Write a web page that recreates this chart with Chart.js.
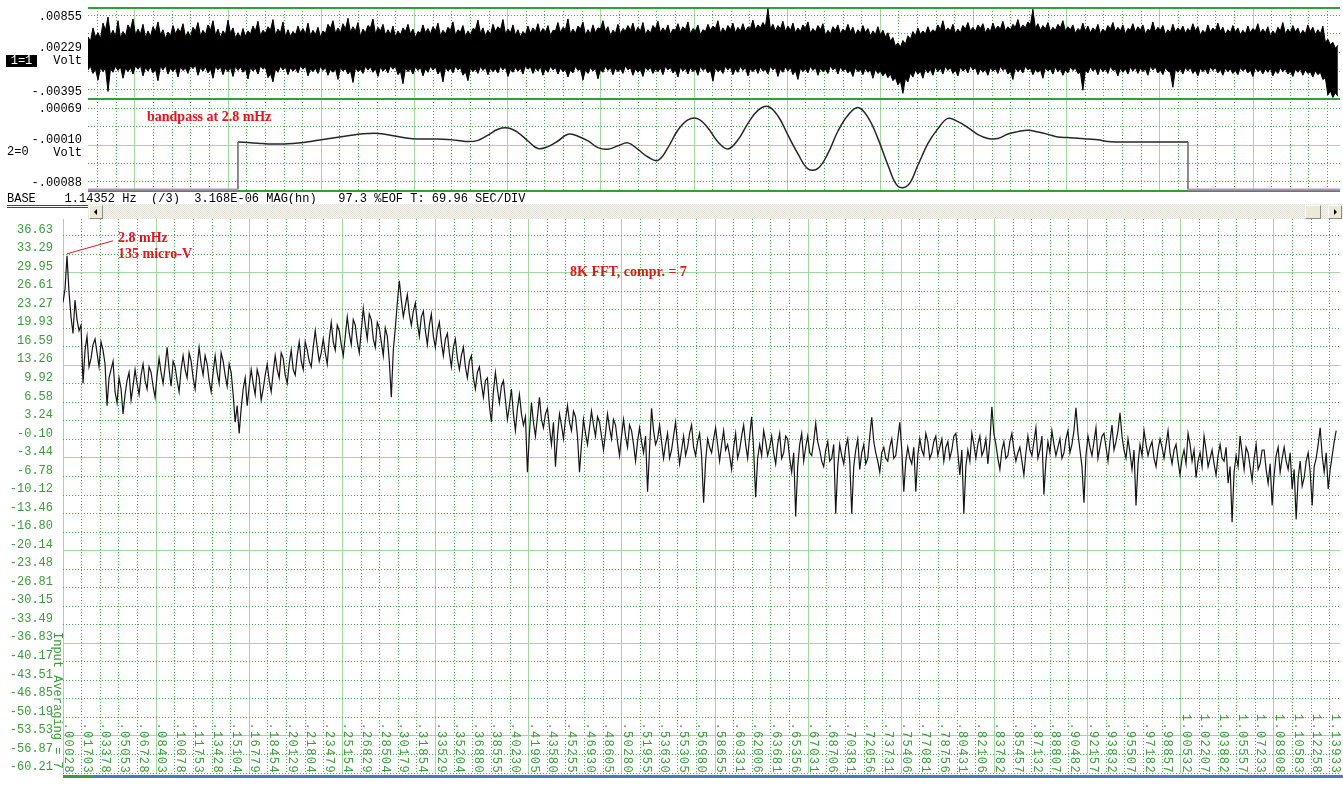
<!DOCTYPE html>
<html>
<head>
<meta charset="utf-8">
<title>8K FFT</title>
<script src="https://cdn.jsdelivr.net/npm/chart.js@4.4.1/dist/chart.umd.min.js"></script>
<style>
  html, body { margin: 0; padding: 0; background: #fff; }
  #screen { position: relative; width: 1343px; height: 787px; overflow: hidden;
            font-family: "Liberation Mono", "DejaVu Sans Mono", monospace; }
  #screen canvas { position: absolute; left: 0; }
  .mono { position: absolute; white-space: pre; font-size: 12px; line-height: 12px; color: #000; }
  .note { position: absolute; white-space: pre; color: #e3141c;
          font: bold 14px/16px "Liberation Serif", "DejaVu Serif", serif; }
  #chan1 { left: 6px; top: 55px; width: 31px; height: 12px; background: #000; color: #fff; text-align: center; }
  #chan2 { left: 7px; top: 146px; }
  #status { left: 7px; top: 193px; }
  #rule { position: absolute; left: 7px; top: 205px; width: 81px; height: 1px;
          border-top: 1px solid #444; border-bottom: 1px solid #444; }
  #track { position: absolute; left: 88px; top: 204px; width: 1255px; height: 15px;
           background: repeating-conic-gradient(#f7f6f1 0 25%, #e3e1d7 0 50%) 0 0 / 2px 2px; }
  .btn { position: absolute; top: 1px; width: 14px; height: 14px; background: #ece9d8;
         border: 1px solid; border-color: #fff #8a8a8a #8a8a8a #fff; box-sizing: border-box; }
  .btn i { position: absolute; top: 3px; width: 0; height: 0; border-top: 3px solid transparent; border-bottom: 3px solid transparent; }
  #btnL { left: 1px; } #btnL i { left: 4px; border-right: 3px solid #000; }
  #btnR { right: 1px; } #btnR i { left: 5px; border-left: 3px solid #000; }
  #thumb { left: 1217px; width: 16px; }
  #avg { left: 51px; top: 632px; writing-mode: vertical-rl; color: #3b9b3b; }
  #baseG { position: absolute; left: 63px; top: 775px; width: 30px; height: 3px; background: #3c9c3c; }
  #baseB { position: absolute; left: 93px; top: 775px; width: 1250px; height: 3px; background: #3f7fbf; }
</style>
</head>
<body>
<div id="screen">
  <canvas id="trace1" width="1343" height="100" style="top:0"></canvas>
  <canvas id="trace2" width="1343" height="100" style="top:99px"></canvas>
  <canvas id="fft" width="1343" height="568" style="top:219px"></canvas>

  <div class="mono" id="chan1">1=1</div>
  <div class="mono" id="chan2">2=0</div>
  <div class="mono" id="status">BASE    1.14352 Hz  (/3)  3.168E-06 MAG(hn)   97.3 %EOF T: 69.96 SEC/DIV</div>
  <div id="rule"></div>
  <div id="track">
    <div class="btn" id="btnL"><i></i></div>
    <div class="btn" id="thumb"></div>
    <div class="btn" id="btnR"><i></i></div>
  </div>
  <div class="mono" id="avg">Input Averaging = 7</div>
  <div id="baseG"></div><div id="baseB"></div>

  <div class="note" style="left:147px; top:109px">bandpass at 2.8 mHz</div>
  <div class="note" style="left:118px; top:230px">2.8 mHz</div>
  <div class="note" style="left:118px; top:246px">135 micro-V</div>
  <div class="note" style="left:570px; top:264px">8K FFT, compr. = 7</div>
</div>

<script>
// time axis of the two upper traces (seconds)
const secPerDiv = 69.96;
const timeSpan = 940.1;
const firstDiv = 35.29;
const traceStep = 1.877;
const bandStart = 112.6;
const bandStep = 7.509;

// channel 1: upper and lower edge of the raw signal, mV
const traceUpper = [
  4.9, 4.2, 6.4, 4.9, 5.6, 4.6, 7.2, 6.0, 8.2, 5.1, 6.0, 5.0, 7.6, 4.7, 5.8, 5.0, 6.9, 6.1, 7.9, 5.3,
  6.2, 5.4, 7.0, 4.8, 5.9, 5.0, 6.6, 5.8, 7.4, 5.2, 6.1, 4.6, 5.7, 5.1, 6.8, 5.4, 6.3, 5.7, 7.1, 4.9,
  5.8, 4.9, 6.5, 5.9, 7.3, 5.1, 6.0, 5.3, 6.9, 6.0, 7.6, 5.2, 6.2, 4.8, 5.9, 5.3, 7.7, 5.5, 6.4, 4.7,
  5.6, 4.8, 6.3, 5.0, 5.9, 5.4, 6.7, 5.9, 7.5, 5.1, 6.0, 5.5, 6.6, 6.0, 7.8, 5.2, 6.2, 5.6, 7.4, 5.0,
  6.1, 5.0, 5.8, 5.2, 6.7, 5.6, 6.3, 5.4, 7.2, 5.1, 6.0, 5.3, 6.5, 4.9, 5.9, 5.5, 7.0, 6.3, 7.6, 5.5,
  6.4, 5.6, 7.1, 6.2, 8.0, 5.7, 6.6, 5.9, 7.3, 5.0, 6.2, 5.6, 6.8, 6.4, 7.9, 5.4, 6.5, 5.9, 7.0, 5.2,
  6.1, 5.3, 6.7, 4.9, 5.9, 5.2, 6.4, 5.8, 7.0, 5.4, 6.2, 4.8, 5.8, 5.5, 6.9, 5.6, 6.3, 5.4, 6.6, 5.9,
  7.2, 5.1, 6.0, 5.4, 6.5, 6.0, 7.4, 5.2, 6.1, 5.7, 6.8, 5.0, 5.9, 5.2, 6.3, 6.1, 7.7, 5.5, 6.4, 5.1,
  6.0, 5.3, 7.0, 5.8, 6.6, 6.1, 7.8, 5.4, 6.2, 5.6, 6.9, 5.2, 6.1, 4.9, 5.8, 5.3, 6.7, 5.5, 6.4, 5.8,
  7.1, 5.5, 6.3, 5.7, 6.8, 5.1, 6.0, 5.9, 7.3, 5.6, 6.5, 6.1, 7.9, 5.4, 6.2, 5.5, 6.7, 6.2, 7.4, 5.2,
  6.1, 5.4, 6.9, 5.6, 6.4, 6.2, 7.6, 5.8, 6.6, 5.1, 6.0, 5.5, 7.0, 5.4, 6.3, 5.9, 6.8, 6.0, 7.2, 5.6,
  6.5, 5.9, 7.3, 5.3, 6.1, 5.5, 6.8, 6.2, 7.5, 5.6, 6.4, 5.8, 6.9, 5.3, 6.2, 6.0, 7.1, 5.7, 6.6, 6.1,
  7.4, 5.4, 6.3, 5.9, 6.9, 5.2, 6.1, 5.8, 7.0, 6.0, 6.7, 6.3, 7.6, 5.5, 6.4, 5.7, 6.8, 6.1, 7.2, 5.6,
  6.5, 5.9, 7.1, 5.8, 6.6, 6.3, 7.7, 6.1, 6.9, 6.4, 7.3, 6.6, 9.6, 6.2, 7.0, 5.9, 6.8, 6.2, 7.5, 5.8,
  6.7, 6.0, 7.2, 5.6, 6.4, 5.8, 6.9, 6.3, 7.4, 5.5, 6.3, 5.7, 6.8, 6.1, 7.1, 5.2, 6.0, 5.4, 6.6, 6.0,
  6.9, 5.4, 6.2, 5.8, 7.0, 5.7, 6.5, 5.2, 6.1, 5.5, 6.8, 5.6, 6.3, 5.1, 5.9, 5.3, 6.6, 5.2, 6.0, 4.9,
  5.6, 4.2, 4.8, 3.4, 3.9, 3.2, 4.3, 3.7, 5.1, 4.5, 5.8, 5.1, 6.4, 5.3, 5.9, 5.4, 6.6, 5.5, 6.1, 5.7,
  6.9, 6.1, 7.6, 5.8, 6.4, 5.9, 7.0, 5.5, 6.2, 5.6, 6.8, 6.2, 7.3, 5.9, 6.5, 5.8, 6.9, 6.3, 7.1, 5.6,
  6.4, 5.8, 7.2, 6.1, 6.7, 6.2, 7.5, 5.9, 6.6, 6.1, 7.0, 6.5, 7.8, 6.2, 6.9, 6.4, 7.4, 6.9, 9.5, 6.3,
  7.1, 6.0, 6.8, 6.2, 7.3, 5.8, 6.5, 6.0, 7.0, 6.4, 7.6, 5.9, 6.6, 6.1, 6.9, 5.5, 6.3, 5.9, 7.2, 5.8,
  6.7, 5.6, 6.4, 5.9, 7.0, 5.4, 6.2, 5.7, 6.8, 6.2, 7.3, 5.8, 6.5, 5.9, 6.9, 5.4, 6.3, 6.0, 7.1, 5.7,
  6.6, 6.0, 6.9, 5.4, 6.2, 5.9, 7.4, 5.8, 6.5, 6.0, 6.8, 5.3, 6.1, 5.6, 7.0, 5.7, 6.4, 5.9, 6.7, 5.5,
  6.3, 5.8, 7.1, 5.9, 6.6, 5.2, 6.0, 5.5, 6.9, 5.7, 6.4, 5.9, 7.2, 5.8, 6.5, 5.3, 6.1, 5.6, 6.8, 5.7,
  6.4, 5.2, 6.0, 5.4, 6.7, 5.6, 6.3, 5.9, 7.1, 5.5, 6.2, 5.6, 6.6, 5.0, 5.9, 5.3, 6.5, 5.9, 7.3, 5.4,
  6.2, 5.6, 6.8, 5.7, 6.4, 5.2, 6.0, 5.4, 6.9, 5.8, 6.5, 5.3, 6.1, 5.4, 6.7, 4.0, 4.5, 3.6, 4.0, 3.0,
  3.5
];
const traceLower = [
  -0.6, 0.0, -1.2, -0.5, -2.3, -0.2, -0.9, -0.3, -4.2, -0.4, -1.0, 0.0, -0.7, -0.1, -2.0, -0.3, -0.9, -0.2, -1.3, 0.1,
  -0.5, 0.1, -1.6, -0.2, -0.8, -0.1, -1.1, -0.5, -2.4, 0.0, -0.6, 0.1, -1.3, -0.3, -0.9, -0.2, -1.8, -0.1, -0.7, -0.3,
  -1.2, 0.1, -0.4, 0.2, -1.5, -0.2, -0.8, -0.1, -1.1, -0.4, -2.0, 0.0, -0.6, -0.1, -1.4, -0.3, -0.9, -0.2, -1.7, 0.0,
  -0.7, -0.1, -1.0, -0.4, -2.1, -0.2, -0.8, -0.3, -1.3, 0.1, -0.5, -0.1, -1.9, -1.2, -2.6, -0.4, -1.0, 0.0, -0.6, -0.1,
  -1.4, -0.2, -0.8, -0.3, -1.1, 0.1, -0.5, 0.0, -1.6, -0.4, -0.9, -0.3, -1.2, 0.0, -0.7, -0.2, -1.5, -0.5, -1.0, -0.4,
  -2.2, -0.2, -0.8, -0.4, -1.3, -0.7, -2.7, -0.2, -0.9, -0.5, -1.2, 0.0, -0.6, -0.1, -1.0, -0.4, -1.7, -0.1, -0.8, -0.3,
  -1.1, 0.1, -0.5, 0.0, -1.4, -0.8, -2.9, -0.3, -0.9, -0.4, -1.3, -0.1, -0.7, -0.2, -1.6, -0.4, -1.0, 0.0, -0.6, -0.1,
  -1.3, -0.6, -2.6, -0.1, -0.8, -0.3, -1.1, 0.0, -0.6, -0.2, -1.5, -0.9, -2.4, -0.3, -0.9, -0.4, -1.2, 0.0, -0.7, -0.2,
  -1.4, -0.3, -0.9, -0.4, -1.1, 0.0, -0.6, -0.1, -1.7, -0.5, -1.0, -0.2, -0.8, -0.3, -1.3, 0.1, -0.5, -0.1, -1.2, -0.2,
  -0.8, -0.1, -1.5, -0.4, -1.0, 0.0, -0.6, -0.2, -1.3, -0.3, -0.9, -0.5, -1.8, -0.6, -1.1, 0.0, -0.7, -0.4, -2.3, -0.6,
  -1.2, -0.2, -0.8, -0.3, -2.1, -0.5, -1.0, 0.0, -0.7, -0.2, -1.4, -0.3, -0.9, -0.4, -1.2, 0.1, -0.6, -0.2, -1.5, -0.4,
  -1.0, -0.5, -1.7, -0.1, -0.7, -0.2, -1.2, -0.4, -0.9, -0.3, -1.4, 0.0, -0.6, -0.2, -1.1, -0.6, -1.8, -0.1, -0.8, -0.3,
  -1.3, -0.2, -0.9, -0.4, -1.5, 0.0, -0.7, -0.3, -1.1, -0.6, -2.5, -0.2, -0.9, -0.5, -1.2, 0.0, -0.6, -0.1, -1.4, -0.4,
  -1.0, 0.0, -0.7, -0.2, -1.6, -0.4, -0.9, -0.3, -1.2, -0.1, -0.8, -0.5, -1.3, 0.0, -0.6, -0.2, -1.7, -0.4, -1.0, -0.1,
  -0.8, -0.2, -1.4, -0.7, -2.2, -0.3, -0.9, -0.4, -1.1, 0.0, -0.7, -0.2, -1.5, -0.3, -0.9, -0.5, -1.2, 0.1, -0.6, -0.2,
  -1.3, -0.1, -0.8, -0.4, -1.1, -0.6, -1.7, -0.2, -0.9, -0.5, -1.4, -0.3, -1.0, -0.6, -2.0, -0.5, -1.2, -0.8, -1.6, -1.0,
  -1.9, -1.3, -2.4, -1.9, -3.1, -2.4, -4.5, -2.0, -2.6, -1.1, -1.8, -0.6, -1.3, -0.8, -2.0, -0.4, -1.1, -0.5, -1.5, -0.1,
  -0.9, -0.3, -1.3, 0.0, -0.7, -0.2, -1.2, -0.6, -1.6, -0.1, -0.8, -0.3, -1.1, 0.1, -0.6, -0.2, -1.4, -0.4, -1.0, -0.5,
  -1.5, -0.2, -0.8, -0.4, -1.2, 0.0, -0.7, -0.3, -1.3, -0.8, -2.2, -0.2, -0.9, -0.4, -1.1, 0.0, -0.6, -0.3, -1.4, -0.5,
  -1.0, -0.5, -2.0, -0.2, -0.8, -0.4, -1.3, -0.1, -0.9, -0.4, -1.5, -0.6, -1.1, -0.1, -0.7, -0.3, -1.2, -1.0, -4.0, -0.6,
  -1.1, -0.1, -0.8, -0.3, -1.4, -0.2, -0.9, -0.4, -1.2, 0.0, -0.7, -0.5, -1.6, -0.3, -1.0, -0.4, -1.3, -0.1, -0.8, -0.2,
  -1.2, -0.3, -0.9, -0.4, -1.5, 0.0, -0.6, -0.1, -1.1, -0.6, -1.4, -0.2, -0.8, -1.0, -3.5, -0.5, -1.0, -0.4, -1.3, -0.2,
  -0.8, -0.2, -1.2, -0.6, -1.6, -0.3, -0.9, -0.4, -1.3, -0.1, -0.7, -0.2, -1.1, -0.5, -1.5, -0.3, -0.9, -0.4, -1.2, -0.7,
  -1.4, -0.2, -0.8, -0.3, -1.1, -0.6, -1.7, -0.2, -0.9, -0.5, -1.3, -0.4, -1.0, -0.3, -1.6, -0.7, -1.2, -0.2, -0.9, -0.4,
  -1.3, -0.8, -1.7, -0.5, -1.0, -0.4, -1.5, -0.6, -1.2, -0.9, -1.8, -0.7, -1.4, -1.0, -2.2, -1.9, -4.8, -4.1, -5.2, -4.4,
  -5.0
];
const trace1Ticks = [-0.00395, -0.00083, 0.00229, 0.00542, 0.00855];

// channel 2: band-passed signal inside its window, mV
const bandFloor = -1.04;
const bandpass = [
  -0.031, -0.044, -0.057, -0.072, -0.074, -0.070, -0.055, -0.027, 0.005, 0.036,
  0.068, 0.100, 0.132, 0.149, 0.151, 0.124, 0.083, 0.049, 0.034, 0.032,
  0.032, 0.022, 0.003, -0.023, 0.003, 0.113, 0.240, 0.265, 0.170, -0.010,
  -0.170, -0.130, -0.010, 0.135, 0.092, -0.006, -0.150, -0.185, -0.112, -0.050,
  -0.190, -0.350, -0.420, -0.150, 0.223, 0.440, 0.460, 0.266, -0.031, -0.180,
  0.015, 0.365, 0.640, 0.720, 0.520, 0.113, -0.282, -0.600, -0.590, -0.271,
  0.202, 0.537, 0.700, 0.493, 0.041, -0.523, -0.970, -0.950, -0.519, -0.061,
  0.253, 0.470, 0.400, 0.272, 0.126, 0.045, 0.043, 0.140, 0.189, 0.219,
  0.179, 0.130, 0.073, 0.062, 0.049, 0.032, 0.015, -0.023, -0.031, -0.031,
  -0.031, -0.031, -0.031, -0.031, -0.031, -0.031
];
const trace2Ticks = [-0.00088, -0.000495, -0.0001, 0.000295, 0.00069];

// spectrum, one value per displayed bin
const specStart = 0.00028;
const specStep = 0.0018;
const spectrum = [
  24.6, 27.0, 33.0, 26.5, 22.0, 19.0, 25.0, 21.5, 19.5, 20.5, 10.0, 16.0, 18.5, 13.0, 14.5, 17.0, 18.0, 15.5, 13.0, 17.5,
  16.0, 13.5, 6.0, 11.0, 12.5, 14.0, 8.5, 6.5, 11.0, 9.0, 4.5, 8.0, 10.5, 12.0, 7.0, 9.5, 12.5, 10.0, 8.0, 11.5,
  13.5, 10.5, 9.0, 13.0, 12.0, 9.5, 7.5, 11.5, 14.5, 12.0, 10.0, 13.0, 16.5, 12.5, 9.5, 14.0, 13.0, 10.5, 8.5, 12.5,
  15.0, 12.5, 11.0, 15.5, 14.0, 11.0, 9.0, 13.0, 16.5, 13.5, 11.5, 15.0, 13.5, 10.5, 8.5, 12.0, 15.0, 12.0, 10.0, 15.5,
  14.0, 11.5, 9.5, 13.5, 12.0, 8.0, 3.0, 6.0, 1.0, 5.5, 9.0, 11.0, 6.0, 9.5, 12.5, 10.0, 8.0, 12.5, 11.0, 7.0,
  9.0, 11.5, 13.5, 10.5, 8.5, 12.0, 15.0, 12.5, 11.0, 15.5, 14.5, 11.5, 10.0, 13.5, 16.0, 12.5, 11.5, 15.0, 17.5, 14.0,
  12.5, 17.5, 16.0, 14.0, 13.0, 16.5, 19.5, 16.5, 14.0, 15.5, 18.0, 15.5, 13.5, 18.0, 21.0, 17.5, 16.0, 20.5, 19.5, 17.0,
  15.0, 18.5, 22.0, 19.0, 17.0, 21.5, 20.5, 17.5, 15.5, 19.5, 23.5, 20.5, 18.0, 22.5, 21.5, 18.0, 16.5, 21.0, 20.0, 17.5,
  15.0, 20.0, 18.5, 14.0, 7.5, 16.0, 20.0, 24.5, 28.5, 25.0, 22.0, 24.0, 26.0, 22.5, 20.5, 23.0, 24.5, 21.0, 18.5, 22.0,
  23.0, 19.5, 17.0, 20.5, 22.5, 18.5, 16.5, 19.5, 21.0, 17.5, 15.0, 18.0, 19.0, 15.5, 13.0, 16.5, 18.0, 14.5, 12.5, 15.0,
  16.5, 13.0, 11.0, 14.0, 15.0, 11.0, 9.0, 12.0, 13.0, 10.0, 7.5, 10.5, 11.0, 6.0, 3.0, 8.5, 12.0, 9.0, 6.5, 9.5,
  10.5, 7.0, 3.5, 6.0, 9.0, 4.5, 1.5, 5.5, 8.0, 4.5, 2.5, 4.0, -6.0, 1.0, 6.5, 3.0, 0.5, 4.0, 7.5, 3.5,
  2.0, 4.5, 5.5, 2.0, -1.0, 3.0, -5.0, 0.5, 4.5, 2.5, 0.0, 3.5, 6.0, 3.0, 1.5, 5.0, 4.0, 0.5, -6.0, -1.0,
  3.5, 1.0, -1.0, 2.0, 5.0, 2.5, 0.5, 4.0, 3.0, 0.5, -2.0, 1.0, 4.5, 2.0, 0.0, 3.5, 2.5, -0.5, -3.0, 0.5,
  3.5, 0.5, -1.5, 2.5, 1.5, -1.0, -4.0, -0.5, 2.0, -0.5, -2.5, 0.5, -9.5, -2.0, 5.5, 1.5, -1.0, 0.0, 2.5, -0.5,
  -3.5, -1.0, 1.0, -3.5, -2.0, 0.5, 3.0, -1.0, -4.5, -2.0, 0.5, -3.0, -1.5, 1.0, 2.5, -1.5, -3.0, -0.5, 1.0, -3.0,
  -11.5, -4.0, 0.0, -1.5, -2.5, 0.0, 2.0, -1.0, -4.0, -1.0, 1.5, -2.0, -1.0, -3.0, -5.5, -1.5, 1.0, -3.5, -2.0, 0.5,
  2.5, -1.0, -3.5, 0.5, 4.0, -2.0, -10.5, -3.5, -1.0, -3.0, 1.5, -0.5, -3.0, -1.5, 0.5, -2.5, -4.5, -1.0, 1.0, -3.5,
  -2.5, 0.5, 0.0, -3.5, -6.0, -2.5, -14.0, -5.0, -1.0, 1.0, -4.0, -1.5, 0.5, -2.5, -3.0, -0.5, 2.8, -0.5, -2.0, -4.0,
  -5.0, -2.0, -0.5, -4.0, -3.5, -1.0, -13.5, -5.0, -1.0, -3.0, -4.5, -1.5, 0.0, -4.0, -13.5, -5.0, -2.0, 0.0, -5.5, -2.5,
  -1.0, -4.5, -3.5, 0.5, 3.9, -0.5, -2.5, -4.0, -6.0, -2.5, -1.5, -3.5, -4.0, -1.5, 0.0, -3.5, -3.0, 0.0, 3.0, -2.0,
  -9.5, -4.0, -1.5, -3.5, -4.5, -1.5, -9.5, -3.0, 0.0, -2.0, -3.0, 1.0, -0.5, -3.5, -2.5, -0.5, 0.5, -3.0, -1.5, 0.0,
  -4.0, -1.5, -0.5, -3.5, -2.0, 0.5, 1.0, -2.5, -6.5, -2.0, -13.5, -5.0, -2.0, -4.0, 1.0, -1.0, -3.5, -1.0, 0.5, -3.0,
  -2.0, 0.0, -4.5, -0.5, 5.8, 1.0, -1.0, -3.5, -5.5, -2.0, -0.5, -3.5, -3.0, -0.5, 1.0, -2.0, -4.0, -2.5, -1.5, -4.0,
  -6.5, -2.5, 0.5, -2.0, -3.0, -0.5, 2.0, -3.5, -2.0, 0.5, -10.0, -4.0, -0.5, -2.5, 1.5, -1.0, -3.0, -1.5, 0.0, -3.5,
  -2.5, 0.0, 1.5, -2.5, -1.0, 1.5, 5.6, 1.0, -2.0, -5.0, -11.5, -3.0, 0.5, -1.5, -3.0, -0.5, 2.0, -3.5, -1.5, 0.5,
  1.0, -1.5, -4.0, -0.5, 2.5, -2.0, -0.5, 1.5, 4.7, 0.5, -2.0, -3.5, 0.0, -2.5, -5.5, -2.0, -12.0, -4.5, -1.0, -3.0,
  1.5, -1.0, -3.0, -1.5, -0.5, -3.5, -5.0, -2.0, 0.0, -1.5, -3.5, -1.0, 1.5, -2.5, -4.5, -2.0, -1.0, -4.0, -6.5, -3.5,
  -2.0, -4.5, 1.0, -1.0, -4.0, -2.0, -7.0, -4.0, -2.5, -5.0, 0.5, -2.0, -5.0, -3.5, -2.0, -4.5, -6.5, -3.0, -1.0, -3.5,
  -4.0, -1.5, -8.0, -5.0, -15.0, -6.0, -3.0, -5.0, 0.5, -2.5, -5.5, -1.5, -2.5, -5.0, -7.5, -3.5, -1.0, -5.5, -4.5, -2.0,
  -2.0, -5.5, -8.0, -4.5, -12.0, -6.5, -3.0, -1.5, -6.0, -3.5, -1.5, -4.0, -5.5, -2.5, -9.0, -5.5, -14.5, -7.0, -4.0, -8.5,
  -7.0, -4.0, -2.5, -6.0, -12.0, -5.0, -3.5, -1.0, 2.0, -3.0, -6.0, -2.5, -9.0, -5.5, -3.0, -0.5, 1.5
];
const freqTicks = [
  '.00028', '.01703', '.03378', '.05053', '.06728', '.08403', '.10078', '.11753', '.13428', '.15104',
  '.16779', '.18454', '.20129', '.21804', '.23479', '.25154', '.26829', '.28504', '.30179', '.31854',
  '.33529', '.35204', '.36880', '.38555', '.40230', '.41905', '.43580', '.45255', '.46930', '.48605',
  '.50280', '.51955', '.53630', '.55305', '.56980', '.58655', '.60331', '.62006', '.63681', '.65356',
  '.67031', '.68706', '.70381', '.72056', '.73731', '.75406', '.77081', '.78756', '.80431', '.82106',
  '.83782', '.85457', '.87132', '.88807', '.90482', '.92157', '.93832', '.95507', '.97182', '.98857',
  '1.00532', '1.02207', '1.03882', '1.05557', '1.07233', '1.08908', '1.10583', '1.12258', '1.13933'
];
const dbTicks = [
  '36.63', '33.29', '29.95', '26.61', '23.27', '19.93', '16.59', '13.26', '9.92', '6.58',
  '3.24', '-0.10', '-3.44', '-6.78', '-10.12', '-13.46', '-16.80', '-20.14', '-23.48', '-26.81',
  '-30.15', '-33.49', '-36.83', '-40.17', '-43.51', '-46.85', '-50.19', '-53.53', '-56.87', '-60.21'
];

const mono = '"Liberation Mono", "DejaVu Sans Mono", monospace';
const panelGreen = '#2f9f37';
const gridSolid = '#a3d8a3';
const gridDot = '#4aae50';
const labelGreen = '#3b9b3b';
const noteRed = '#e3141c';

const isMajor = c => !!(c.tick && c.tick.major);
const fmtVolt = v => v.toFixed(5).replace('0.', '.');
const noPad = s => { s.paddingTop = 0; s.paddingBottom = 0; s.paddingLeft = 0; s.paddingRight = 0; };

function timeAxis() {
  return {
    type: 'linear', min: 0, max: timeSpan,
    afterBuildTicks: s => {
      const ticks = [];
      for (let n = -2; firstDiv + n * secPerDiv / 5 <= timeSpan; n++) {
        ticks.push({ value: firstDiv + n * secPerDiv / 5, major: n % 5 === 0 });
      }
      s.ticks = ticks;
    },
    afterFit: s => { s.height = 0; noPad(s); },
    ticks: { display: false },
    grid: { drawTicks: false, color: c => isMajor(c) ? gridSolid : gridDot },
    border: { display: false, dash: c => isMajor(c) ? [] : [1, 2] }
  };
}

function voltAxis(min, max, ticks, centreColor, centreSolid, shift) {
  return {
    min, max,
    afterBuildTicks: s => {
      s.ticks = [{ value: min, edge: true },
                 ...ticks.map((v, i) => ({ value: v, centre: i === 2 })),
                 { value: max, edge: true }];
    },
    afterFit: s => { s.width = 88; noPad(s); },
    ticks: {
      autoSkip: false, padding: 6, color: '#000', labelOffset: shift,
      font: { family: mono, size: 12, lineHeight: 1.1 },
      callback: (v, i) => i === 1 || i === 5 ? fmtVolt(v) : i === 3 ? [fmtVolt(v), 'Volt'] : ''
    },
    grid: {
      drawTicks: false,
      color: c => !c.tick ? gridDot : c.tick.edge ? panelGreen : c.tick.centre ? centreColor : gridDot,
      lineWidth: c => c.tick && c.tick.edge ? 2 : 1
    },
    border: {
      display: false,
      dash: c => c.tick && (c.tick.edge || (c.tick.centre && centreSolid)) ? [] : [1, 2]
    }
  };
}

const common = {
  responsive: false, maintainAspectRatio: false, animation: false, devicePixelRatio: 1,
  events: [],
  plugins: { legend: { display: false }, tooltip: { enabled: false } },
  elements: { point: { radius: 0 } }
};

// channel 1
new Chart(document.getElementById('trace1'), {
  type: 'line',
  data: {
    datasets: [
      { data: traceUpper.map((v, k) => ({ x: k * traceStep, y: v / 1000 })),
        borderColor: '#000', borderWidth: 1, fill: false },
      { data: traceLower.map((v, k) => ({ x: k * traceStep, y: v / 1000 })),
        borderColor: '#000', borderWidth: 1, fill: '-1', backgroundColor: '#000' }
    ]
  },
  options: {
    ...common,
    layout: { padding: { top: 8, bottom: 1, left: 0, right: 3 } },
    scales: {
      x: timeAxis(),
      y: voltAxis(-0.005452, 0.009718, trace1Ticks, '#7b3f7b', false, 2)
    }
  }
});

// channel 2
const bandEnd = bandStart + (bandpass.length - 1) * bandStep;
new Chart(document.getElementById('trace2'), {
  type: 'line',
  data: {
    datasets: [
      { data: [{ x: 0, y: bandFloor / 1000 }, { x: bandStart, y: bandFloor / 1000 }, { x: bandStart, y: null },
               { x: bandEnd, y: bandFloor / 1000 }, { x: timeSpan, y: bandFloor / 1000 }],
        borderColor: '#c985c9', borderWidth: 2 },
      { data: [{ x: bandStart, y: bandFloor / 1000 }, { x: bandStart, y: bandpass[0] / 1000 }, { x: bandStart + 1, y: null },
               { x: bandEnd, y: bandpass[bandpass.length - 1] / 1000 }, { x: bandEnd, y: bandFloor / 1000 }],
        borderColor: '#666', borderWidth: 1.5 },
      { data: bandpass.map((v, j) => ({ x: bandStart + j * bandStep, y: v / 1000 })),
        borderColor: '#262626', borderWidth: 1.5, tension: 0.4 }
    ]
  },
  options: {
    ...common,
    layout: { padding: { top: 0, bottom: 8, left: 0, right: 3 } },
    scales: {
      x: timeAxis(),
      y: voltAxis(-0.001071, 0.000881, trace2Ticks, gridSolid, true, 1)
    }
  }
});

// spectrum
const freqLabels = {
  id: 'freqLabels',
  afterDatasetsDraw(chart) {
    const { ctx, chartArea, scales: { x } } = chart;
    ctx.save();
    ctx.font = '12px ' + mono;
    ctx.letterSpacing = '1.4px';
    ctx.fillStyle = labelGreen;
    ctx.textAlign = 'right';
    ctx.textBaseline = 'alphabetic';
    freqTicks.forEach(label => {
      ctx.save();
      ctx.translate(x.getPixelForValue(parseFloat(label)) + 2, chartArea.bottom + 1);
      ctx.rotate(Math.PI / 2);
      ctx.fillText(label, 0, 0);
      ctx.restore();
    });
    ctx.letterSpacing = '0px';
    // leader from the 2.8 mHz peak to its note
    const peak = chart.getDatasetMeta(0).data[2];
    ctx.strokeStyle = noteRed;
    ctx.lineWidth = 1;
    ctx.beginPath();
    ctx.moveTo(peak.x, peak.y - 2);
    ctx.lineTo(peak.x + 46, peak.y - 15);
    ctx.stroke();
    ctx.restore();
  }
};

new Chart(document.getElementById('fft'), {
  type: 'line',
  data: {
    datasets: [{
      data: spectrum.map((v, k) => ({ x: specStart + k * specStep, y: v })),
      borderColor: '#151515', borderWidth: 1.2
    }]
  },
  options: {
    ...common,
    layout: { padding: { top: 0, bottom: 14, left: 0, right: 3 } },
    scales: {
      x: {
        type: 'linear', min: 0.00028, max: 1.1485,
        afterBuildTicks: s => { s.ticks = freqTicks.map((l, i) => ({ value: parseFloat(l), major: i % 5 === 0 })); },
        afterFit: s => { s.height = 0; noPad(s); },
        ticks: { display: false },
        grid: { drawTicks: false, color: c => isMajor(c) ? gridSolid : gridDot },
        border: { display: false, dash: c => isMajor(c) ? [] : [1, 2] }
      },
      y: {
        min: -60.21, max: 39.63,
        afterBuildTicks: s => { s.ticks = dbTicks.map((l, i) => ({ value: parseFloat(l), major: i % 5 === 2 })); },
        afterFit: s => { s.width = 63; noPad(s); },
        ticks: {
          autoSkip: false, padding: 10, labelOffset: -6, color: labelGreen,
          font: { family: mono, size: 12 },
          callback: (v, i) => dbTicks[i]
        },
        grid: { drawTicks: false, color: c => isMajor(c) ? gridSolid : gridDot },
        border: { display: false, dash: c => isMajor(c) ? [] : [1, 2] }
      }
    }
  },
  plugins: [freqLabels]
});
</script>
</body>
</html>
